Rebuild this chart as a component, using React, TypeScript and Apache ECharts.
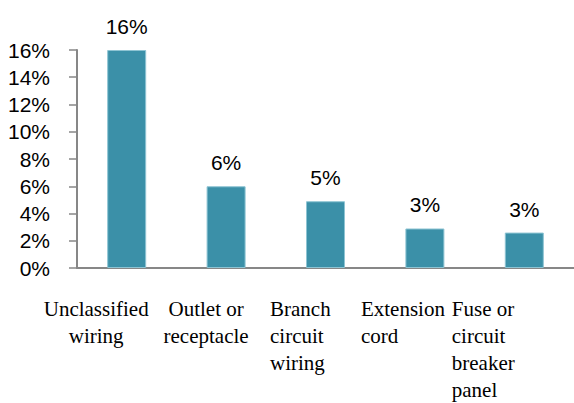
import React, { useEffect, useRef } from "react";
import * as echarts from "echarts";

const categories = [
  "Unclassified\nwiring",
  "Outlet or\nreceptacle",
  "Branch\ncircuit\nwiring",
  "Extension\ncord",
  "Fuse or\ncircuit\nbreaker\npanel",
];
const values = [0.16, 0.06, 0.049, 0.029, 0.026];
const barLabels = ["16%", "6%", "5%", "3%", "3%"];
const yTicks = { min: 0, max: 0.16, interval: 0.02 };

export default function App() {
  const ref = useRef<HTMLDivElement>(null);
  useEffect(() => {
    if (!ref.current) return;
    const chart = echarts.init(ref.current, null, { renderer: "svg" });
    const serif = "serif";
    const sans = "sans-serif";
    const base = { fontFamily: serif, fontSize: 21, lineHeight: 27 };
    chart.setOption({
      animation: false,
      textStyle: { fontFamily: serif },
      grid: {
        left: 77,
        top: 50,
        right: 0,
        bottom: 135,
        outerBoundsMode: "none",
      },
      xAxis: {
        type: "category",
        data: categories,
        axisLine: { lineStyle: { color: "#878787", width: 2 } },
        axisTick: { show: false },
        axisLabel: {
          interval: 0,
          margin: 27,
          fontFamily: serif,
          fontSize: 21,
          color: "#000",
          formatter: (v: string, i: number) => `{s${i}|${v}}`,
          rich: {
            s0: { ...base, align: "center", padding: [0, 61, 0, 0] },
            s1: { ...base, align: "center", padding: [0, 40, 0, 0] },
            s2: { ...base, align: "left", width: 111 },
            s3: { ...base, align: "left", width: 128 },
            s4: { ...base, align: "left", width: 145 },
          },
        },
      },
      yAxis: {
        type: "value",
        min: yTicks.min,
        max: yTicks.max,
        interval: yTicks.interval,
        splitLine: { show: false },
        axisLine: { show: true, lineStyle: { color: "#878787", width: 2 } },
        axisTick: { show: true, length: 8, lineStyle: { color: "#878787", width: 1.5 } },
        axisLabel: {
          margin: 27,
          fontFamily: sans,
          fontSize: 21,
          color: "#000",
          formatter: (v: number) => `${Math.round(v * 100)}%`,
        },
      },
      series: [
        {
          type: "bar",
          data: values,
          barWidth: 39,
          itemStyle: { color: "#3B90A8", borderColor: "#8ec4d3", borderWidth: 1 },
          label: {
            show: true,
            position: "top",
            distance: 13,
            fontFamily: sans,
            fontSize: 21,
            color: "#000",
            formatter: (p: any) => barLabels[p.dataIndex],
          },
        },
      ],
    });
    return () => chart.dispose();
  }, []);
  return (
    <div
      ref={ref}
      style={{ position: "fixed", left: 0, top: 0, width: 574, height: 403, background: "#fff" }}
    />
  );
}
